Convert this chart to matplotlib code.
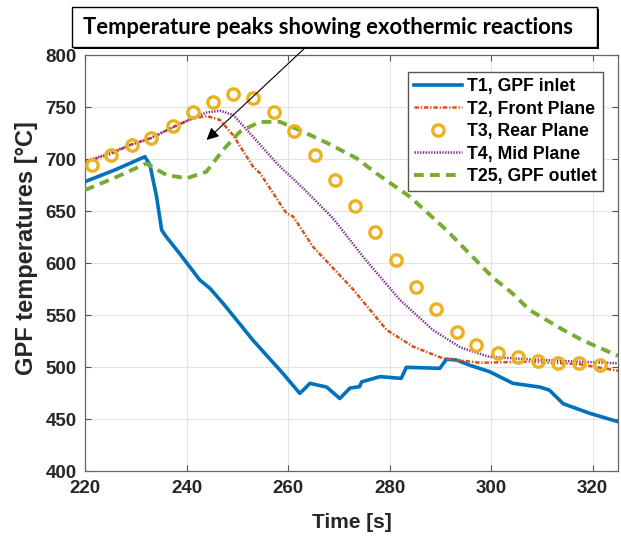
import matplotlib
matplotlib.use("Agg")
import matplotlib.pyplot as plt
from matplotlib.patches import Rectangle

# ---------------- data ----------------
t1_time = [220, 226, 231.8, 232.8, 234.1, 235.1, 236.0, 238.6, 242.6, 244.6, 247.2, 253.1,
           259.0, 262.3, 263.2, 264.3, 267.6, 270.2, 272.2, 274.1, 274.5, 278.1, 282.3,
           283.3, 289.9, 291.2, 293.2, 295.8, 299.7, 304.3, 309.6, 311.5, 314.2, 319.4, 325]
t1_temp = [678.5, 690, 702.5, 694.5, 664, 632, 625.6, 609.6, 584, 576, 561.5, 526,
           494, 475, 479, 484.6, 481, 470, 480, 481.4, 486, 491, 489.4,
           500, 499, 507.7, 507, 502, 495.8, 484.6, 481, 478, 465, 455.8, 447.7]

t2_time = [220, 225, 229, 232.8, 237.4, 241.3, 244.0, 246.6, 249.2, 253.1, 254.5, 259.7,
           261.0, 264.9, 272.8, 279.4, 284.6, 290.5, 297.8, 307.6, 317.4, 325]
t2_temp = [697, 705, 714, 720, 731, 739.4, 741.6, 737.8, 723, 693, 686.5, 648,
           645, 616, 575, 536, 520, 508.6, 504.4, 505.4, 503, 496.7]

t3_time = [221.3, 225.2, 229.2, 233.1, 237.3, 241.3, 245.2, 249.2, 253.1, 257.2, 261.1,
           265.3, 269.2, 273.1, 277.2, 281.2, 285.3, 289.2, 293.2, 297.1, 301.4, 305.3,
           309.2, 313.2, 317.3, 321.4]
t3_temp = [694.5, 704, 713.7, 720, 732, 745.8, 755.4, 762.5, 758.6, 745.8, 727.5,
           704, 680, 655.4, 629.8, 603, 577.5, 555.8, 534, 521.4, 513.5, 509.6,
           506.4, 504.4, 504.4, 502.2]

t4_time = [220, 225, 229, 232.8, 237.4, 241.3, 244.0, 246.6, 249.2, 253.1, 258.0, 263.0,
           268.9, 275.0, 282.0, 288.5, 294.0, 299.7, 307.6, 317.0, 325]
t4_temp = [698, 706, 714, 720, 731, 740, 745, 746.7, 742.6, 721.7, 695, 672,
           643, 605, 565, 536, 519, 510, 507.7, 505.5, 503.8]

t25_time = [220, 225.6, 232.1, 236.0, 240.0, 243.9, 247.2, 250.5, 254.4, 258.4, 262.3,
            268.0, 273.5, 277.4, 284.0, 291.2, 293.8, 300.4, 304.0, 307.6, 314.2, 318.0, 325]
t25_temp = [670.5, 681.7, 696, 685, 681.7, 688, 709, 726.5, 736, 736, 728,
            715, 701, 686.5, 664, 632, 619, 586, 572, 555, 536, 526, 511]

labels = ["T1, GPF inlet", "T2, Front Plane", "T3, Rear Plane", "T4, Mid Plane", "T25, GPF outlet"]
x_ticks = [220, 240, 260, 280, 300, 320]
y_ticks = [400, 450, 500, 550, 600, 650, 700, 750, 800]
annotation_text = "Temperature peaks showing exothermic reactions"

# ---------------- style ----------------
plt.rcParams['font.family'] = ['Liberation Sans', 'DejaVu Sans']
plt.rcParams['lines.scale_dashes'] = False

W, H = 621, 536
fig = plt.figure(figsize=(W / 100, H / 100), dpi=100)
fig.patch.set_facecolor('white')

ax_l, ax_r, ax_t, ax_b = 85, 618, 55.3, 471.3
ax = fig.add_axes([ax_l / W, 1 - ax_b / H, (ax_r - ax_l) / W, (ax_b - ax_t) / H])

c_blue, c_orange, c_yellow, c_purple, c_green = '#0072BD', '#D95319', '#EDB120', '#7E2F8E', '#77AC30'

ax.plot(t1_time, t1_temp, color=c_blue, lw=2.6, label=labels[0], zorder=3)
ax.plot(t2_time, t2_temp, color=c_orange, lw=1.8, dashes=(3.2, 1.3, 1.0, 1.3), label=labels[1], zorder=4)
ax.plot(t3_time, t3_temp, ls='none', marker='o', ms=8.2, mfc='none', mec=c_yellow, mew=2.4,
        label=labels[2], zorder=5)
ax.plot(t4_time, t4_temp, color=c_purple, lw=1.8, dashes=(1.0, 1.0), label=labels[3], zorder=4)
ax.plot(t25_time, t25_temp, color=c_green, lw=2.8, dashes=(7.0, 4.5), label=labels[4], zorder=3)

ax.set_xlim(220, 325)
ax.set_ylim(400, 800)
ax.set_xticks(x_ticks)
ax.set_yticks(y_ticks)
ax.tick_params(direction='in', length=4, width=0.8, color='#555555', top=True, right=True,
               labelsize=13.5, pad=6)
for lab in ax.get_xticklabels() + ax.get_yticklabels():
    lab.set_fontweight('bold')
    lab.set_color('#262626')
for sp in ax.spines.values():
    sp.set_color('#666666')
    sp.set_linewidth(0.9)
ax.grid(True, color='#e3e3e3', lw=0.8)
ax.set_axisbelow(True)

ax.set_xlabel('Time [s]', fontsize=15, fontweight='bold', color='#262626')
ax.xaxis.set_label_coords(0.5, -(522 - ax_b) / (ax_b - ax_t))
ax.set_ylabel('GPF temperatures [°C]', fontsize=17, fontweight='bold', color='#262626')
ax.yaxis.set_label_coords((27 - ax_l) / (ax_r - ax_l), (ax_b - 248.5) / (ax_b - ax_t))
ax.xaxis.label.set_va('center')
ax.yaxis.label.set_va('center')

leg = ax.legend(loc='upper right',
                bbox_to_anchor=((603 - ax_l) / (ax_r - ax_l), (ax_b - 72) / (ax_b - ax_t)),
                borderaxespad=0, prop={'weight': 'bold', 'size': 12.7},
                handlelength=2.7, handletextpad=0.3, labelspacing=0.31,
                borderpad=0.35, fancybox=False, framealpha=1)
leg.get_frame().set_edgecolor('#555555')
leg.get_frame().set_linewidth(1.0)

# arrow annotation
ax.annotate('', xy=(243.96, 718.6), xytext=(263.6, 808.3), xycoords='data',
            arrowprops=dict(arrowstyle='-|>', color='black', lw=0.8, mutation_scale=18,
                            shrinkA=0, shrinkB=0),
            annotation_clip=False, zorder=6)

# annotation box with shadow (figure pixel coords)
bx0, bx1, by0, by1 = 71.7, 596.7, 6.7, 46.7
shadow = Rectangle((bx0 + 2.5, H - by1 - 2.5), bx1 - bx0, by1 - by0, transform=None,
                   facecolor='black', edgecolor='black', lw=0, zorder=9)
box = Rectangle((bx0, H - by1), bx1 - bx0, by1 - by0, transform=None,
                facecolor='white', edgecolor='black', lw=1.0, zorder=10)
fig.patches.extend([shadow, box])
txt = fig.text(83.3 / W, 1 - 27 / H, annotation_text, ha='left', va='center',
               fontsize=16, fontweight='bold', family=['Lato', 'DejaVu Sans'], zorder=11)
fig.canvas.draw()
wpx = txt.get_window_extent().width
target = 575 - 83.3
txt.set_fontsize(16 * target / wpx)

fig.savefig('out.png', dpi=100)
